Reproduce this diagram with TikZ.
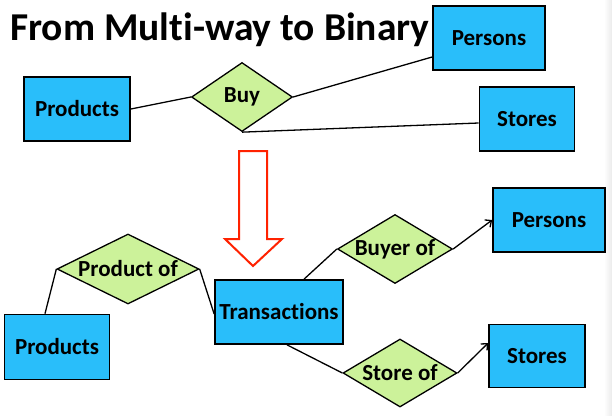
\documentclass[tikz,border=0pt]{standalone}
\usepackage{fontspec}
\setmainfont[Ligatures=NoCommon]{Carlito}
\usetikzlibrary{shapes.geometric,arrows.meta}
\definecolor{boxblue}{HTML}{29BEFA}
\definecolor{relgreen}{HTML}{CCF29A}
\definecolor{arrowred}{HTML}{FF2200}
\tikzset{
  entity/.style={draw=black, line width=1.7pt, fill=boxblue, inner sep=0pt,
    font=\fontsize{23}{26}\selectfont\bfseries},
  relation/.style={draw=black, line width=1.3pt, fill=relgreen, diamond, inner sep=0pt,
    font=\fontsize{23}{26}\selectfont\bfseries},
  link/.style={draw=black, line width=1.3pt},
  linkarrow/.style={link, -{Straight Barb[length=5pt,width=9pt,line width=1.3pt]}},
}
\begin{document}
\begin{tikzpicture}[x=1pt,y=-1pt]
\useasboundingbox (0,0) rectangle (612,415);
\fill[white] (0,0) rectangle (612,415);
\shade[left color=white, right color=black!8] (604,0) rectangle (612,415);

\node[anchor=base west, font=\fontsize{39.5}{42}\selectfont\bfseries, inner sep=0pt] (title) at (10,40) {From Multi-way to Binary};

% top diagram
\node[entity, minimum width=106pt, minimum height=64pt] (prodT) at (77,109) {Products};
\node[relation, aspect=1.46, minimum width=101pt, minimum height=69pt] (buy) at (242,97) {Buy};
\node[entity, minimum width=112pt, minimum height=64pt] (persT) at (489,38) {Persons};
\node[entity, minimum width=95pt, minimum height=64pt] (storT) at (527,119) {Stores};

\draw[link] (prodT.east) -- (buy.west);
\draw[link] (buy.east) -- ([yshift=-19pt]persT.west);
\draw[link] (buy.south) -- ([yshift=-4pt]storT.west);

% red arrow
\draw[arrowred, line width=2pt, fill=white, line join=miter]
  (239,151) -- (267,151) -- (267,239) -- (282,239) -- (253,266) -- (225,239) -- (239,239) -- cycle;

% bottom diagram
\node[relation, aspect=2.03, minimum width=142pt, minimum height=70pt] (prodof) at (128,269) {Product of};
\node[entity, minimum width=105pt, minimum height=65pt] (prodB) at (57,347) {Products};
\node[entity, minimum width=128pt, minimum height=64pt] (trans) at (279,312) {Transactions};
\node[relation, aspect=1.67, minimum width=115pt, minimum height=69pt] (buyer) at (395,249) {Buyer of};
\node[entity, minimum width=112pt, minimum height=64pt] (persB) at (549,220) {Persons};
\node[relation, aspect=1.68, minimum width=114pt, minimum height=68pt] (storeof) at (400,373) {Store of};
\node[entity, minimum width=96pt, minimum height=63pt] (storB) at (537,356) {Stores};

\draw[link] ([xshift=-12pt]prodB.north) -- (prodof.west);
\draw[link] (prodof.east) -- ([yshift=-2pt]trans.west);
\draw[link] ([xshift=25pt]trans.north) -- (buyer.west);
\draw[linkarrow] (buyer.east) -- (persB.west);
\draw[link] ([xshift=8pt]trans.south) -- (storeof.west);
\draw[linkarrow] (storeof.east) -- ([yshift=13pt]storB.west);
\end{tikzpicture}
\end{document}
